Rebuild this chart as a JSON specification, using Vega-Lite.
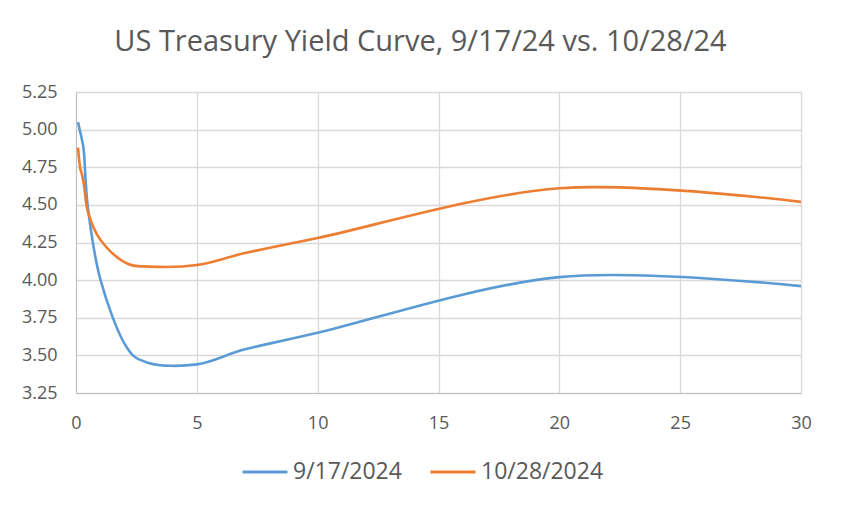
{
  "$schema": "https://vega.github.io/schema/vega-lite/v6.json",
  "autosize": "none",
  "width": 725,
  "height": 301,
  "padding": {"left": 76, "top": 92, "right": 47, "bottom": 119},
  "background": "white",
  "title": {
    "text": "US Treasury Yield Curve, 9/17/24 vs. 10/28/24",
    "font": "Open Sans",
    "fontSize": 29,
    "fontWeight": "normal",
    "color": "#595959",
    "anchor": "middle",
    "frame": "group",
    "baseline": "alphabetic",
    "offset": 38,
    "dx": -18,
    "dy": 35
  },
  "config": {
    "view": {"stroke": null},
    "font": "Open Sans"
  },
  "data": {
    "values": [
      {"date": "9/17/2024", "maturity": 0.083, "yield": 5.05},
      {"date": "9/17/2024", "maturity": 0.167, "yield": 4.99},
      {"date": "9/17/2024", "maturity": 0.25, "yield": 4.93},
      {"date": "9/17/2024", "maturity": 0.333, "yield": 4.84},
      {"date": "9/17/2024", "maturity": 0.5, "yield": 4.47},
      {"date": "9/17/2024", "maturity": 1, "yield": 4.01},
      {"date": "9/17/2024", "maturity": 2, "yield": 3.58},
      {"date": "9/17/2024", "maturity": 3, "yield": 3.45},
      {"date": "9/17/2024", "maturity": 5, "yield": 3.44},
      {"date": "9/17/2024", "maturity": 7, "yield": 3.54},
      {"date": "9/17/2024", "maturity": 10, "yield": 3.65},
      {"date": "9/17/2024", "maturity": 20, "yield": 4.02},
      {"date": "9/17/2024", "maturity": 30, "yield": 3.96},
      {"date": "10/28/2024", "maturity": 0.083, "yield": 4.88},
      {"date": "10/28/2024", "maturity": 0.167, "yield": 4.75},
      {"date": "10/28/2024", "maturity": 0.25, "yield": 4.70},
      {"date": "10/28/2024", "maturity": 0.333, "yield": 4.63},
      {"date": "10/28/2024", "maturity": 0.5, "yield": 4.45},
      {"date": "10/28/2024", "maturity": 1, "yield": 4.27},
      {"date": "10/28/2024", "maturity": 2, "yield": 4.12},
      {"date": "10/28/2024", "maturity": 3, "yield": 4.09},
      {"date": "10/28/2024", "maturity": 5, "yield": 4.10},
      {"date": "10/28/2024", "maturity": 7, "yield": 4.18},
      {"date": "10/28/2024", "maturity": 10, "yield": 4.28},
      {"date": "10/28/2024", "maturity": 20, "yield": 4.61},
      {"date": "10/28/2024", "maturity": 30, "yield": 4.52}
    ]
  },
  "mark": {"type": "line", "interpolate": "cardinal", "tension": 0, "strokeWidth": 2.6, "clip": true},
  "encoding": {
    "x": {
      "field": "maturity",
      "type": "quantitative",
      "scale": {"domain": [0, 30], "nice": false, "zero": false},
      "axis": {
        "title": null,
        "values": [0, 5, 10, 15, 20, 25, 30],
        "labelFontSize": 18,
        "labelColor": "#595959",
        "labelPadding": 21,
        "ticks": false,
        "domainColor": "#bfbfbf",
        "gridColor": "#d9d9d9",
        "gridWidth": 1.3,
        "labelFlush": false
      }
    },
    "y": {
      "field": "yield",
      "type": "quantitative",
      "scale": {"domain": [3.25, 5.25], "nice": false, "zero": false},
      "axis": {
        "title": null,
        "values": [3.25, 3.5, 3.75, 4, 4.25, 4.5, 4.75, 5, 5.25],
        "format": ".2f",
        "labelFontSize": 18,
        "labelColor": "#595959",
        "labelPadding": 19,
        "ticks": false,
        "domainColor": "#bfbfbf",
        "gridColor": "#d9d9d9",
        "gridWidth": 1.3
      }
    },
    "color": {
      "field": "date",
      "type": "nominal",
      "scale": {"domain": ["9/17/2024", "10/28/2024"], "range": ["#5B9BD5", "#ED7D31"]},
      "legend": {
        "title": null,
        "orient": "none",
        "direction": "horizontal",
        "legendX": 165,
        "legendY": 356,
        "symbolType": "stroke",
        "symbolSize": 2025,
        "symbolStrokeWidth": 3,
        "labelFontSize": 23,
        "labelColor": "#595959",
        "labelOffset": 4,
        "columnPadding": 22,
        "labelLimit": 300
      }
    }
  }
}
